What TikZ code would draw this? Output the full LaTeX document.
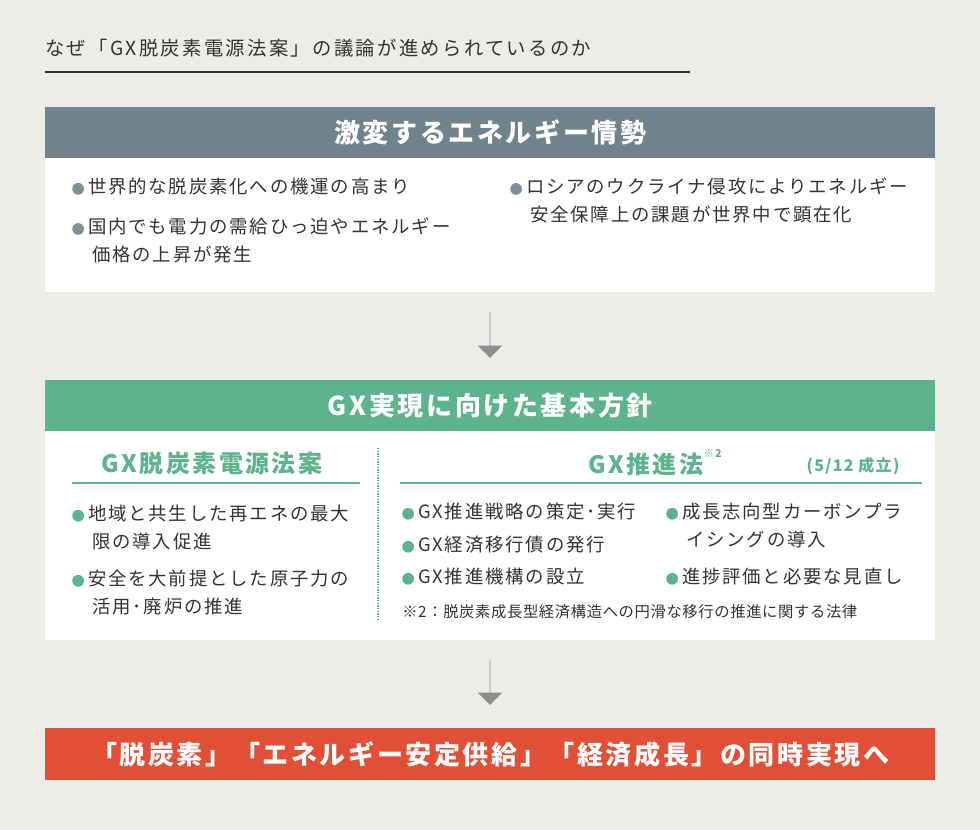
\documentclass[tikz,border=0pt]{standalone}
\usepackage{fontspec}
\setmainfont{Noto Sans CJK JP}
\usetikzlibrary{positioning,shapes.arrows}
\definecolor{bgc}{HTML}{EDEDE7}
\definecolor{slate}{HTML}{6F838C}
\definecolor{dotgrey}{HTML}{7E9098}
\definecolor{gxgreen}{HTML}{5DB48C}
\definecolor{gxred}{HTML}{E14F37}
\definecolor{txt}{HTML}{333333}
\definecolor{arrowgrey}{HTML}{8E8E8E}
\tikzstyle{head} = [minimum width=667.5pt, minimum height=38pt, inner sep=0pt, text=white, font=\fontsize{19.5}{22}\selectfont\bfseries\addfontfeature{LetterSpace=10}]
\tikzstyle{panel} = [fill=white, minimum width=667.5pt, inner sep=0pt]
\tikzstyle{item} = [anchor=north west, inner sep=0pt, text=txt, align=left, font=\fontsize{13.8}{21}\selectfont\addfontfeature{LetterSpace=10}]
\tikzstyle{sub} = [text=gxgreen, inner sep=0pt, font=\fontsize{18}{20}\selectfont\bfseries\addfontfeature{LetterSpace=10}]
\tikzstyle{downarrow} = [single arrow, shape border rotate=270, fill=arrowgrey, minimum width=17pt, single arrow head extend=9pt, single arrow head indent=0pt, minimum height=34pt, inner sep=0pt]
\newcommand{\greydot}{\tikz[baseline=-0.5ex]\fill[dotgrey] (0,0) circle (4.4pt);\hspace{3pt}}
\newcommand{\greendot}{\tikz[baseline=-0.5ex]\fill[gxgreen] (0,0) circle (4.4pt);\hspace{3pt}}
\begin{document}
\begin{tikzpicture}[x=0.75pt, y=-0.75pt]
\fill[bgc] (0,0) rectangle (980,830);
\useasboundingbox (0,0) rectangle (980,830);
% title
\node[anchor=west, inner sep=0pt, text=txt, font=\fontsize{14.5}{16}\selectfont\addfontfeature{LetterSpace=12}] (title) at (45,48) {なぜ「GX脱炭素電源法案」の議論が進められているのか};
\draw[txt, line width=1pt] (45,72) -- (690,72);
% box 1
\node[head, fill=slate, anchor=north west] (h1) at (45,107) {激変するエネルギー情勢};
\node[panel, anchor=north west, minimum height=100.5pt] (p1) at (45,158) {};
\node[item] (a1) at (72,178) {\greydot 世界的な脱炭素化への機運の高まり};
\node[item] (a2) at (72,218) {\greydot 国内でも電力の需給ひっ迫やエネルギー\\\hspace{15pt}価格の上昇が発生};
\node[item] (a3) at (510,178) {\greydot ロシアのウクライナ侵攻によりエネルギー\\\hspace{15pt}安全保障上の課題が世界中で顕在化};
% arrow 1
\node[downarrow] (ar1) at (490,335) {};
% box 2
\node[head, fill=gxgreen, anchor=north west] (h2) at (45,380) {GX実現に向けた基本方針};
\node[panel, anchor=north west, minimum height=156.75pt] (p2) at (45,431) {};
\node[sub] (s1) at (212,463) {GX脱炭素電源法案};
\draw[gxgreen, line width=1pt] (72,483) -- (360,483);
\node[sub] (s2) at (655,463) {GX推進法\raisebox{1.2ex}{\fontsize{8}{8}\selectfont ※2}};
\node[text=gxgreen, inner sep=0pt, font=\fontsize{12}{13}\selectfont\bfseries\addfontfeature{LetterSpace=8}] (s3) at (853,466) {(5/12 成立)};
\draw[gxgreen, line width=1pt] (400,483) -- (922,483);
\draw[gxgreen, densely dotted, line width=1pt] (378,448) -- (378,620);
\node[item] (b1) at (72,505) {\greendot 地域と共生した再エネの最大\\\hspace{15pt}限の導入促進};
\node[item] (b2) at (72,570) {\greendot 安全を大前提とした原子力の\\\hspace{15pt}活用･廃炉の推進};
\node[item] (c1) at (402,503) {\greendot GX推進戦略の策定･実行};
\node[item] (c2) at (402,536) {\greendot GX経済移行債の発行};
\node[item] (c3) at (402,568) {\greendot GX推進機構の設立};
\node[item] (d1) at (666,503) {\greendot 成長志向型カーボンプラ\\\hspace{15pt}イシングの導入};
\node[item] (d2) at (666,568) {\greendot 進捗評価と必要な見直し};
\node[anchor=west, inner sep=0pt, text=txt, font=\fontsize{11.5}{12}\selectfont\addfontfeature{LetterSpace=4}] (fn) at (402,612) {※2：脱炭素成長型経済構造への円滑な移行の推進に関する法律};
% arrow 2
\node[downarrow] (ar2) at (490,682) {};
% box 3
\node[head, fill=gxred, anchor=north west, minimum height=39pt] (h3) at (45,728) {「脱炭素」「エネルギー安定供給」「経済成長」の同時実現へ};
\end{tikzpicture}
\end{document}
